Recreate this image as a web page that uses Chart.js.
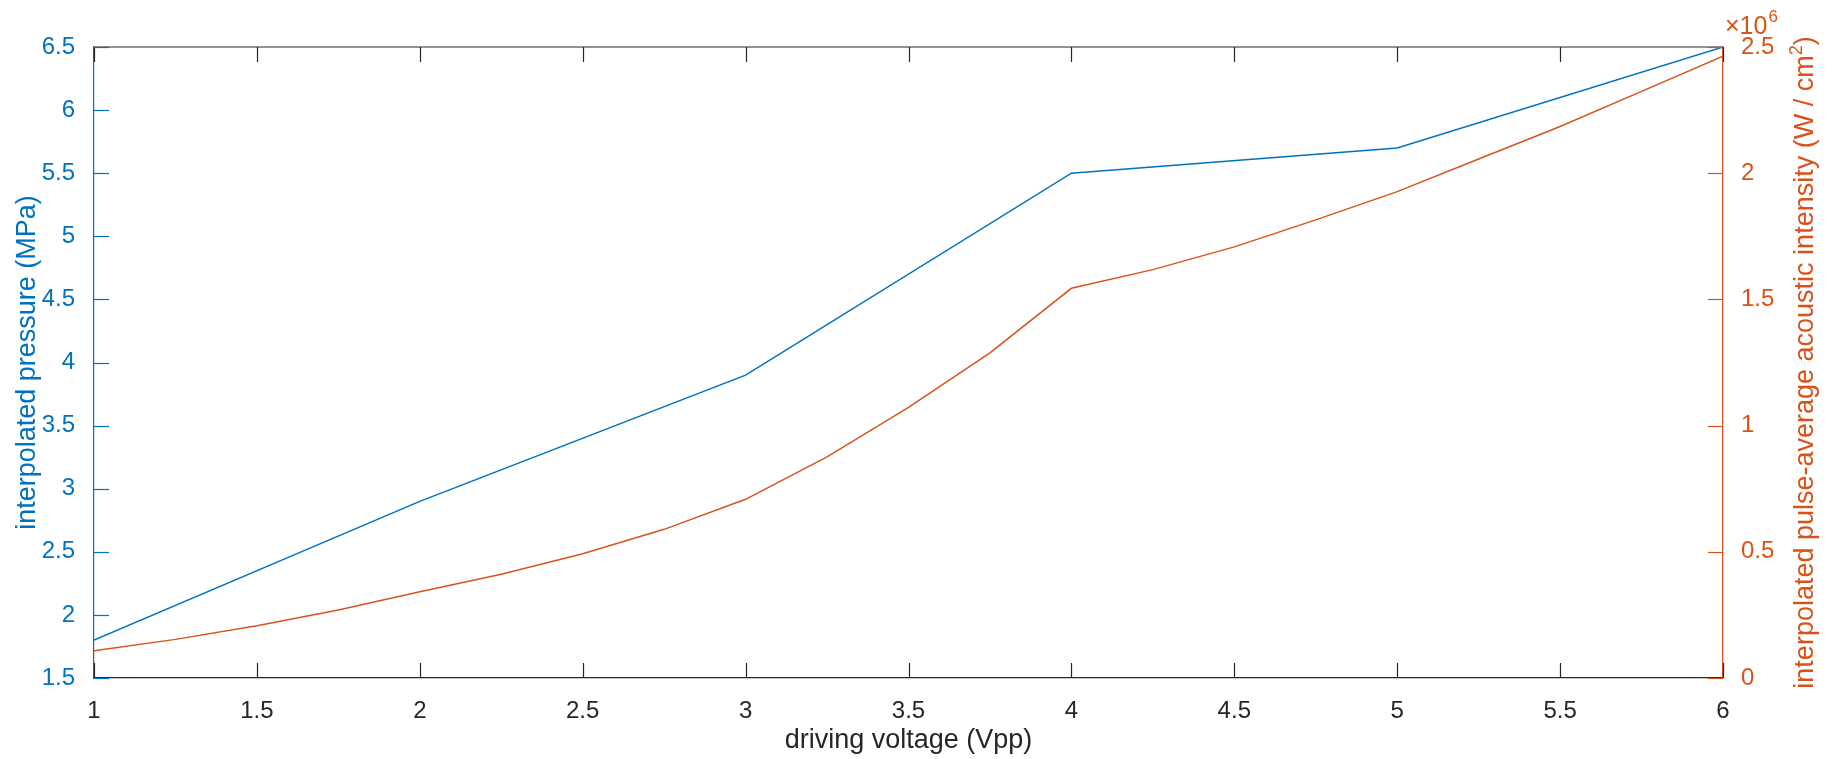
<!DOCTYPE html>
<html>
<head>
<meta charset="utf-8">
<script src="https://cdn.jsdelivr.net/npm/chart.js@4/dist/chart.umd.min.js"></script>
<style>
  html, body { margin: 0; padding: 0; background: #fff; }
  #wrap { width: 1832px; height: 759px; position: relative; }
</style>
</head>
<body>
<div id="wrap"><canvas id="c"></canvas></div>
<script>
// measured points (driving voltage, Vpp)
const voltage = [1, 2, 3, 4, 5, 6];
const pressure = [1.8, 2.9, 3.9, 5.5, 5.7, 6.5]; // MPa

// interpolated intensity, every 0.25 Vpp (x 10^6 W/cm^2)
const intensityVoltage = [1, 1.25, 1.5, 1.75, 2, 2.25, 2.5, 2.75, 3, 3.25, 3.5,
  3.75, 4, 4.25, 4.5, 4.75, 5, 5.25, 5.5, 5.75, 6];
const intensity = [0.108, 0.153, 0.207, 0.269, 0.342, 0.411, 0.492, 0.589, 0.708,
  0.876, 1.072, 1.288, 1.544, 1.618, 1.708, 1.815, 1.927, 2.056, 2.185, 2.324, 2.464];

const xTicks = { min: 1, max: 6, step: 0.5 };
const leftTicks = { min: 1.5, max: 6.5, step: 0.5 };
const rightTicks = { min: 0, max: 2.5, step: 0.5 };

const BLUE = '#0072BD';
const ORANGE = '#D95319';
const DARK = '#262626';
const FONT = '"Liberation Sans", Arial, Helvetica, sans-serif';
const TICK = 15;
const fmt = (v) => String(Number(v.toFixed(2)));

// matlab style frame: inward ticks, top line, exponent and right label
const frame = {
  id: 'frame',
  afterDraw(chart) {
    const { ctx, chartArea: a, scales } = chart;
    const seg = (x1, y1, x2, y2, color) => {
      ctx.strokeStyle = color;
      ctx.beginPath();
      ctx.moveTo(x1, y1);
      ctx.lineTo(x2, y2);
      ctx.stroke();
    };
    ctx.save();
    ctx.lineWidth = 1.2;
    seg(a.left, a.top, a.right, a.top, DARK);
    scales.x.ticks.forEach((t) => {
      const px = Math.round(scales.x.getPixelForValue(t.value)) + 0.5;
      seg(px, a.bottom, px, a.bottom - TICK, DARK);
      seg(px, a.top, px, a.top + TICK, DARK);
    });
    scales.y.ticks.forEach((t) => {
      const py = Math.round(scales.y.getPixelForValue(t.value)) + 0.5;
      seg(a.left, py, a.left + TICK, py, BLUE);
    });
    scales.y1.ticks.forEach((t) => {
      const py = Math.round(scales.y1.getPixelForValue(t.value)) + 0.5;
      seg(a.right, py, a.right - TICK, py, ORANGE);
    });

    // x10^6 exponent above the right axis
    ctx.fillStyle = ORANGE;
    ctx.textBaseline = 'alphabetic';
    ctx.textAlign = 'left';
    ctx.font = '25px ' + FONT;
    ctx.fillText('\u00d710', a.right + 2, 34);
    const w = ctx.measureText('\u00d710').width;
    ctx.font = '17px ' + FONT;
    ctx.fillText('6', a.right + 3 + w, 22);

    // right axis title, reading bottom to top
    const title = 'interpolated pulse-average acoustic intensity (W / cm';
    ctx.save();
    ctx.translate(1813, (a.top + a.bottom) / 2);
    ctx.rotate(-Math.PI / 2);
    ctx.font = '27px ' + FONT;
    const tw = ctx.measureText(title).width;
    const pw = ctx.measureText(')').width;
    ctx.font = '18px ' + FONT;
    const sw = ctx.measureText('2').width;
    const start = -(tw + sw + pw) / 2;
    ctx.font = '27px ' + FONT;
    ctx.fillText(title, start, 0);
    ctx.fillText(')', start + tw + sw, 0);
    ctx.font = '18px ' + FONT;
    ctx.fillText('2', start + tw, -11);
    ctx.restore();

    ctx.restore();
  },
};

new Chart(document.getElementById('c'), {
  type: 'line',
  data: {
    datasets: [
      {
        label: 'pressure',
        data: voltage.map((v, i) => ({ x: v, y: pressure[i] })),
        yAxisID: 'y',
        borderColor: BLUE,
        borderWidth: 1.5,
        pointRadius: 0,
        tension: 0,
      },
      {
        label: 'intensity',
        data: intensityVoltage.map((v, i) => ({ x: v, y: intensity[i] })),
        yAxisID: 'y1',
        borderColor: ORANGE,
        borderWidth: 1.5,
        pointRadius: 0,
        tension: 0,
      },
    ],
  },
  options: {
    responsive: true,
    maintainAspectRatio: false,
    animation: false,
    layout: { padding: { top: 47, left: 0, right: 0, bottom: 0 } },
    plugins: { legend: { display: false }, tooltip: { enabled: false } },
    scales: {
      x: {
        type: 'linear',
        position: 'bottom',
        min: xTicks.min,
        max: xTicks.max,
        afterFit: (s) => { s.height = 81; },
        grid: { display: false },
        border: { display: true, color: DARK, width: 1.2 },
        ticks: {
          stepSize: xTicks.step,
          color: DARK,
          padding: 11,
          maxRotation: 0,
          callback: fmt,
          font: { family: FONT, size: 24 },
        },
        title: {
          display: true,
          text: 'driving voltage (Vpp)',
          color: DARK,
          font: { family: FONT, size: 27 },
          padding: { top: 0, bottom: 2 },
        },
      },
      y: {
        type: 'linear',
        position: 'left',
        min: leftTicks.min,
        max: leftTicks.max,
        afterFit: (s) => { s.width = 94; },
        grid: { display: false },
        border: { display: true, color: BLUE, width: 1.2 },
        ticks: {
          stepSize: leftTicks.step,
          color: BLUE,
          padding: 11,
          callback: fmt,
          font: { family: FONT, size: 24 },
        },
        title: {
          display: true,
          text: 'interpolated pressure (MPa)',
          color: BLUE,
          font: { family: FONT, size: 27 },
          padding: { top: 11, bottom: 0 },
        },
      },
      y1: {
        type: 'linear',
        position: 'right',
        min: rightTicks.min,
        max: rightTicks.max,
        afterFit: (s) => { s.width = 109; },
        grid: { display: false },
        border: { display: true, color: ORANGE, width: 1.2 },
        ticks: {
          stepSize: rightTicks.step,
          color: ORANGE,
          padding: 10,
          callback: fmt,
          font: { family: FONT, size: 24 },
        },
      },
    },
  },
  plugins: [frame],
});
</script>
</body>
</html>
